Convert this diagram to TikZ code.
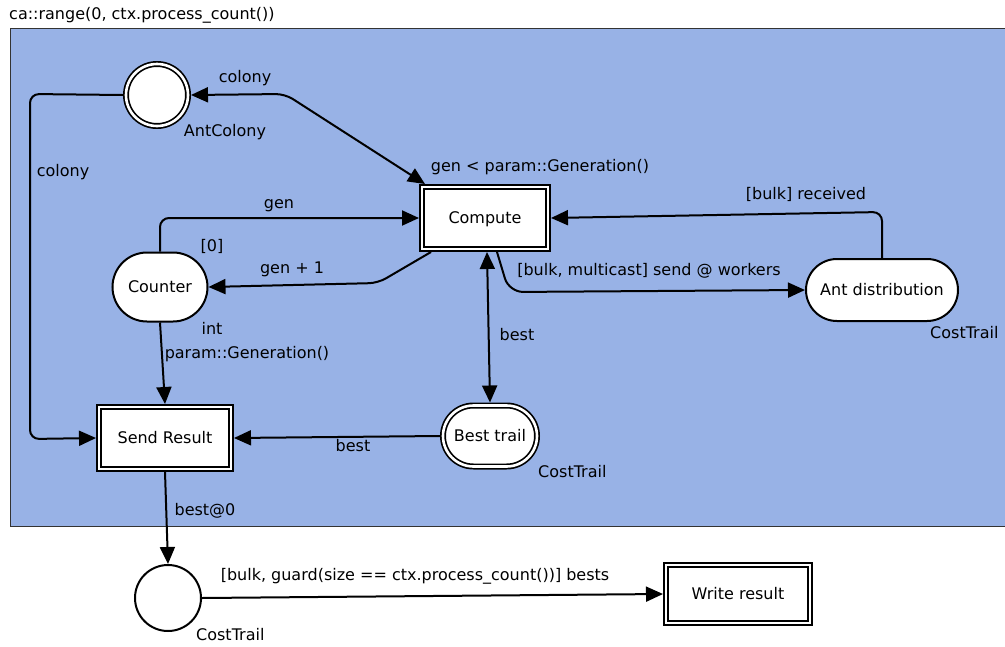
\documentclass[tikz,border=0pt]{standalone}
\usepackage{fontspec}
\setmainfont{DejaVu Sans}
\usetikzlibrary{arrows.meta,shapes.misc,calc}
\definecolor{areablue}{RGB}{152,178,230}
\begin{document}
\begin{tikzpicture}[x=1pt,y=-1pt,
  font=\fontsize{16}{19}\selectfont,
  every node/.style={inner sep=0pt},
  place/.style={draw=black, fill=white, line width=2pt, outer sep=1pt, text height=11pt, text depth=0pt},
  dblplace/.style={draw=black, fill=white, line width=1.7pt, double=white, double distance=2.6pt, outer sep=3pt, text height=11pt, text depth=0pt},
  trans/.style={rectangle, draw=black, fill=white, line width=1.7pt, double=white, double distance=2.6pt, outer sep=3pt, text height=11pt, text depth=0pt},
  arc/.style={line width=2pt, -{Triangle[length=17pt,width=15pt]}, rounded corners=9pt},
  biarc/.style={line width=2pt, {Triangle[length=17pt,width=15pt]}-{Triangle[length=17pt,width=15pt]}, rounded corners=9pt},
  lbl/.style={text=black}
]
\useasboundingbox (0,0) rectangle (1005,646);

% process area
\node[lbl, anchor=west] (title) at (9,15) {ca::range(0, ctx.process\_count())};
\draw[fill=areablue, draw=black!80, line width=0.8pt] (10,28) rectangle (1010,526);

% places
\node[dblplace, circle, minimum size=62pt] (antcolony) at (157,95) {};
\node[place, rounded rectangle, minimum width=95pt, minimum height=69pt] (counter) at (160,287) {Counter};
\node[place, rounded rectangle, minimum width=152pt, minimum height=62pt] (antdist) at (882,290) {Ant distribution};
\node[dblplace, rounded rectangle, minimum width=94pt, minimum height=61pt] (besttrail) at (490,436) {Best trail};
\node[place, circle, minimum size=66pt] (result) at (168,598) {};

% transitions
\node[trans, minimum width=126pt, minimum height=62pt] (compute) at (485,218) {Compute};
\node[trans, minimum width=132pt, minimum height=62pt] (sendresult) at (165,438) {Send Result};
\node[trans, minimum width=144pt, minimum height=58pt] (writeresult) at (738,594) {Write result};

% place annotations
\node[lbl] (antcolonytype) at (225,132) {AntColony};
\node[lbl] (counterinit) at (212,246) {[0]};
\node[lbl] (countertype) at (212,328) {int};
\node[lbl, anchor=west] (antdisttype) at (930,333) {CostTrail};
\node[lbl, anchor=west] (besttype) at (538,472) {CostTrail};
\node[lbl, anchor=west] (resulttype) at (196,635) {CostTrail};
\node[lbl] (computeguard) at (540,167) {gen < param::Generation()};

% arcs
\draw[biarc] (antcolony.east) -- (285,94) -- ($(compute.north west)+(6,0)$);
\node[lbl] (colonyrw) at (245,78) {colony};

\draw[arc] (antcolony.west) -- (30,94) -- (30,439) -- (sendresult.west);
\node[lbl] (colonyread) at (63,172) {colony};

\draw[arc] (counter.north) |- (compute.west);
\node[lbl] (genread) at (279,206) {gen};

\draw[arc] ($(compute.south west)+(12,0)$) -- (378,283) -- (counter.east);
\node[lbl] (genwrite) at (292,269) {gen + 1};

\draw[arc] (counter.south) -- (sendresult.north);
\node[lbl] (genlimit) at (247,354) {param::Generation()};

\draw[arc, rounded corners=14pt] ($(compute.south)+(12,0)$) -- (509,292) -- (antdist.west);
\node[lbl] (sendlbl) at (649,271) {[bulk, multicast] send @ workers};

\draw[arc] (antdist.north) -- (882,212) -- (compute.east);
\node[lbl] (recvlbl) at (806,194) {[bulk] received};

\draw[biarc] ($(compute.south)+(2,0)$) -- (besttrail.north);
\node[lbl] (bestrw) at (517,335) {best};

\draw[arc] (besttrail.west) -- (sendresult.east);
\node[lbl] (bestread) at (353,446) {best};

\draw[arc] (sendresult.south) -- (result.north);
\node[lbl] (bestsend) at (205,511) {best@0};

\draw[arc] (result.east) -- (writeresult.west);
\node[lbl] (bestslbl) at (415,576) {[bulk, guard(size == ctx.process\_count())] bests};
\end{tikzpicture}
\end{document}
